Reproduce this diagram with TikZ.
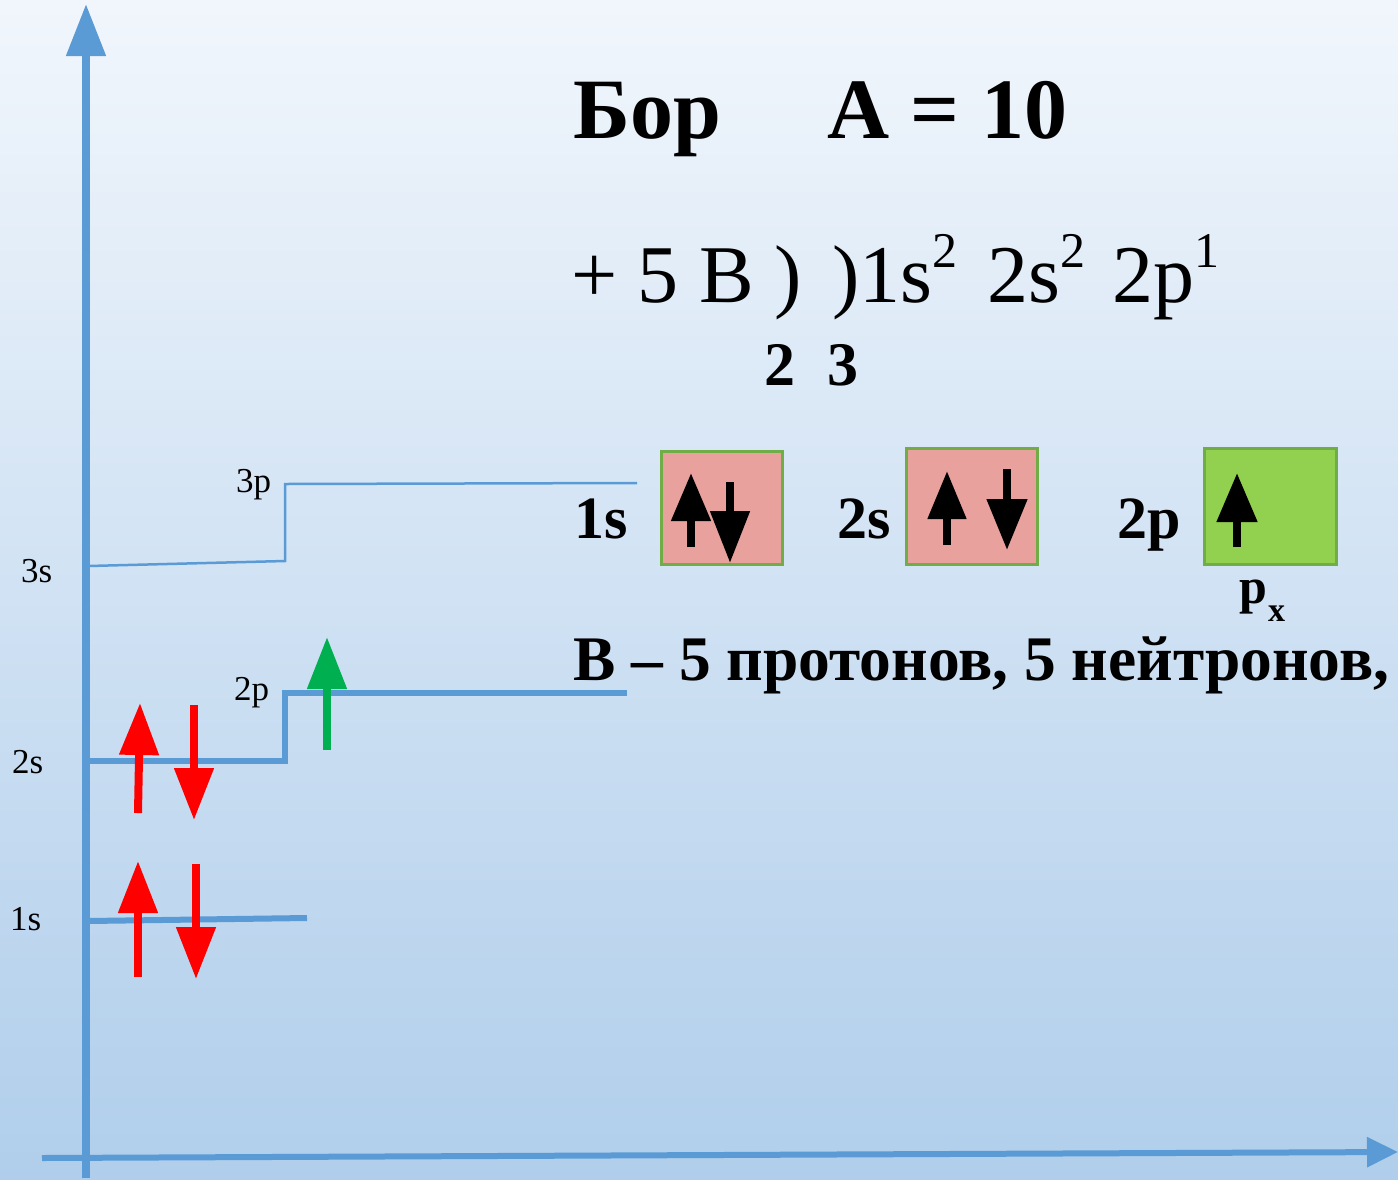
\documentclass[tikz,border=0pt]{standalone}
\usepackage{fontspec}
\setmainfont{Liberation Serif}
\usetikzlibrary{arrows.meta}
\definecolor{axisblue}{HTML}{5B9BD5}
\definecolor{bgtop}{RGB}{241,246,252}
\definecolor{bgbot}{RGB}{176,206,235}
\definecolor{spinred}{HTML}{FF0000}
\definecolor{spingreen}{HTML}{00B050}
\definecolor{boxpink}{HTML}{E8A19C}
\definecolor{boxgreen}{HTML}{92D050}
\definecolor{boxedge}{HTML}{70AD47}
\newcommand\supnum[1]{\raisebox{0.42em}{\fontsize{50}{50}\selectfont #1}}
\tikzset{
  lbl/.style={anchor=base west, inner sep=0pt, text=black},
  small/.style={lbl, font=\fontsize{35}{35}\selectfont},
  level/.style={draw=axisblue, line width=6pt},
  thinlevel/.style={draw=axisblue, line width=2.5pt},
  spin/.style={line width=8pt, -{Triangle[length=52pt,width=38pt]}},
  cell/.style={draw=boxedge, line width=3pt},
}
\begin{document}
\begin{tikzpicture}[x=1pt,y=-1pt]
\useasboundingbox (0,0) rectangle (1398,1179);
\shade[top color=bgtop, bottom color=bgbot] (0,0) rectangle (1398,1179);

% axes
\coordinate (ybot) at (86,1178);
\coordinate (ytop) at (86,4);
\coordinate (xleft) at (42,1158);
\coordinate (xright) at (1398,1152);
\draw[axisblue, line width=8pt, -{Triangle[length=52pt,width=38pt]}] (ybot) -- (ytop);
\draw[axisblue, line width=6pt, -{Triangle[length=31pt,width=29pt]}] (xleft) -- (xright);

% energy levels
\coordinate (s1a) at (88,921);
\coordinate (s1b) at (307,918);
\draw[level] (s1a) -- (s1b);
\coordinate (s2a) at (88,761);
\coordinate (s2b) at (285,761);
\coordinate (p2a) at (285,693);
\coordinate (p2b) at (627,693);
\draw[level] (s2a) -- (s2b) -- (p2a) -- (p2b);
\coordinate (s3a) at (88,566);
\coordinate (s3b) at (285,561);
\coordinate (p3a) at (285,484);
\coordinate (p3b) at (637,483);
\draw[thinlevel] (s3a) -- (s3b) -- (p3a) -- (p3b);

% level labels
\node[small] (l1s) at (10,930) {1s};
\node[small] (l2s) at (12,773) {2s};
\node[small] (l3s) at (21,582) {3s};
\node[small] (l2p) at (234,700) {2p};
\node[small] (l3p) at (236,492) {3p};

% electrons on diagram
\coordinate (u1a) at (138,977); \coordinate (u1b) at (138,861);
\coordinate (d1a) at (196,864); \coordinate (d1b) at (196,979);
\coordinate (u2a) at (138,813); \coordinate (u2b) at (140,703);
\coordinate (d2a) at (194,705); \coordinate (d2b) at (194,820);
\coordinate (g2a) at (327,750); \coordinate (g2b) at (327,637);
\draw[spin, spinred] (u1a) -- (u1b);
\draw[spin, spinred] (d1a) -- (d1b);
\draw[spin, spinred] (u2a) -- (u2b);
\draw[spin, spinred] (d2a) -- (d2b);
\draw[spin, spingreen] (g2a) -- (g2b);

% title
\node[lbl, font=\bfseries\fontsize{86}{86}\selectfont] (bor) at (573,138) {Бор};
\node[lbl, font=\bfseries\fontsize{86}{86}\selectfont] (mass) at (827,138) {A = 10};

% formula
\node[lbl, font=\fontsize{82}{82}\selectfont] (f1) at (571,302) {+ 5 B )};
\node[lbl, font=\fontsize{82}{82}\selectfont] (f2) at (832,302) {)1s\supnum{2}};
\node[lbl, font=\fontsize{82}{82}\selectfont] (f3) at (987,302) {2s\supnum{2}};
\node[lbl, font=\fontsize{82}{82}\selectfont] (f4) at (1112,302) {2p\supnum{1}};
\node[lbl, font=\bfseries\fontsize{62}{62}\selectfont] (n2) at (764,385) {2};
\node[lbl, font=\bfseries\fontsize{62}{62}\selectfont] (n3) at (827,385) {3};

% orbital boxes
\node[lbl, font=\bfseries\fontsize{60}{60}\selectfont] (b1s) at (574,538) {1s};
\node[lbl, font=\bfseries\fontsize{60}{60}\selectfont] (b2s) at (837,538) {2s};
\node[lbl, font=\bfseries\fontsize{60}{60}\selectfont] (b2p) at (1117,538) {2p};
\draw[cell, fill=boxpink] (661,451) rectangle (782,564);
\draw[cell, fill=boxpink] (906,448) rectangle (1037,564);
\draw[cell, fill=boxgreen] (1204,448) rectangle (1336,564);

\coordinate (k1a) at (691,547); \coordinate (k1b) at (691,473);
\coordinate (k2a) at (730,482); \coordinate (k2b) at (730,563);
\coordinate (k3a) at (947,545); \coordinate (k3b) at (947,471);
\coordinate (k4a) at (1007,469); \coordinate (k4b) at (1007,550);
\coordinate (k5a) at (1237,547); \coordinate (k5b) at (1237,473);
\draw[line width=8pt, black, -{Triangle[length=48pt,width=38pt]}] (k1a) -- (k1b);
\draw[line width=8pt, black, -{Triangle[length=52pt,width=38pt]}] (k2a) -- (k2b);
\draw[line width=8pt, black, -{Triangle[length=48pt,width=37pt]}] (k3a) -- (k3b);
\draw[line width=8pt, black, -{Triangle[length=51pt,width=39pt]}] (k4a) -- (k4b);
\draw[line width=8pt, black, -{Triangle[length=49pt,width=39pt]}] (k5a) -- (k5b);

\node[lbl, font=\bfseries\fontsize{50}{50}\selectfont] (px) at (1239,603) {p};
\node[lbl, font=\bfseries\fontsize{34}{34}\selectfont] (pxs) at (1268,621) {x};

% composition
\node[lbl, font=\bfseries\fontsize{63.5}{64}\selectfont] (comp) at (573,680) {B – 5 протонов, 5 нейтронов,};
\end{tikzpicture}
\end{document}
